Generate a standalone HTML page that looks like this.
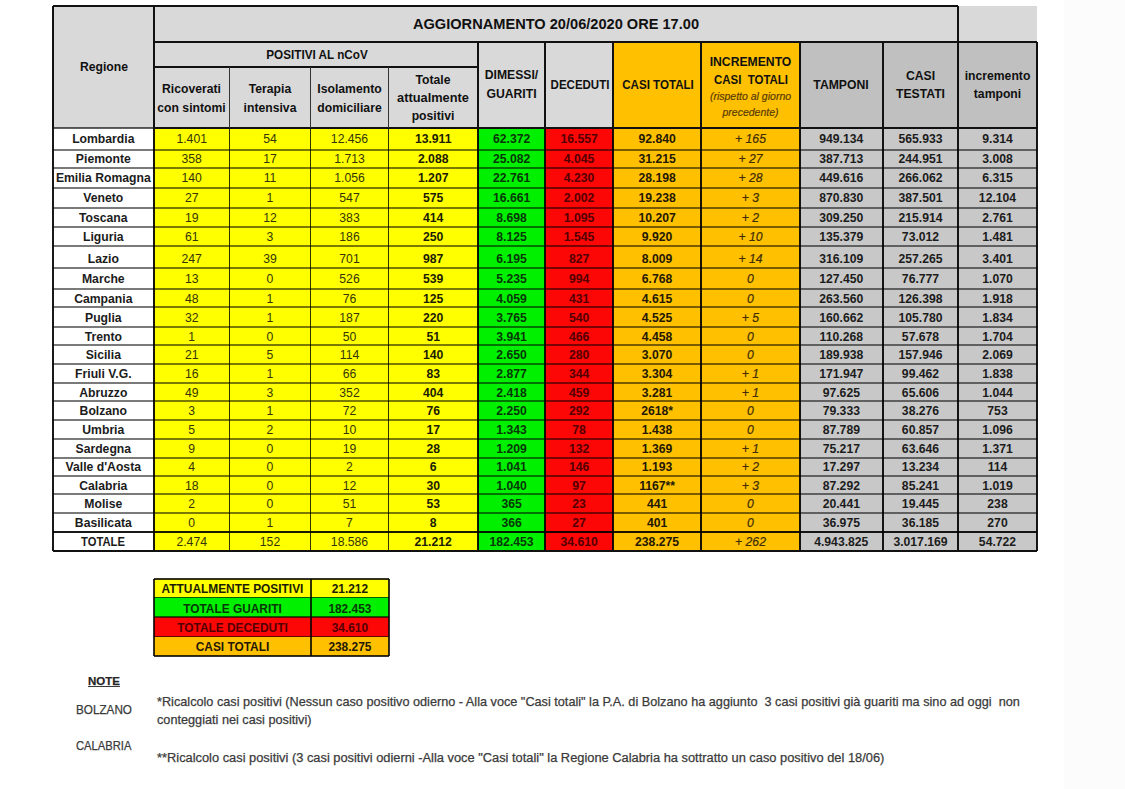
<!DOCTYPE html>
<html><head><meta charset="utf-8"><style>
html,body{margin:0;padding:0;background:#fff;}
body{width:1125px;height:789px;position:relative;overflow:hidden;font-family:"Liberation Sans",sans-serif;}
div{position:absolute;}
.t{position:absolute;white-space:nowrap;line-height:1;}
.n{position:absolute;white-space:nowrap;line-height:1;font-size:11.5px;-webkit-text-stroke:0.25px #3a3a3a;}
</style></head><body>
<div style="left:1064.0px;top:0.0px;width:61.0px;height:789.0px;background:#fcfcfc;"></div>
<div style="left:52.7px;top:6.0px;width:101.3px;height:122.3px;background:#d9d9d9;"></div>
<div style="left:154.0px;top:6.0px;width:804.0px;height:36.3px;background:#d9d9d9;"></div>
<div style="left:958.0px;top:6.0px;width:79.1px;height:36.3px;background:#d9d9d9;"></div>
<div style="left:154.0px;top:42.3px;width:324.0px;height:86.0px;background:#d9d9d9;"></div>
<div style="left:478.0px;top:42.3px;width:135.0px;height:86.0px;background:#d9d9d9;"></div>
<div style="left:613.0px;top:42.3px;width:186.6px;height:86.0px;background:#ffc000;"></div>
<div style="left:799.6px;top:42.3px;width:237.5px;height:86.0px;background:#c0c0c0;"></div>
<div style="left:52.7px;top:128.3px;width:101.3px;height:422.7px;background:#ffffff;"></div>
<div style="left:154.0px;top:128.3px;width:75.3px;height:422.7px;background:#ffff00;"></div>
<div style="left:229.3px;top:128.3px;width:81.4px;height:422.7px;background:#ffff00;"></div>
<div style="left:310.7px;top:128.3px;width:77.7px;height:422.7px;background:#ffff00;"></div>
<div style="left:388.4px;top:128.3px;width:89.6px;height:422.7px;background:#ffff00;"></div>
<div style="left:478.0px;top:128.3px;width:67.2px;height:422.7px;background:#00f000;"></div>
<div style="left:545.2px;top:128.3px;width:67.8px;height:422.7px;background:#fd0606;"></div>
<div style="left:613.0px;top:128.3px;width:88.3px;height:422.7px;background:#ffc000;"></div>
<div style="left:701.3px;top:128.3px;width:98.3px;height:422.7px;background:#ffc000;"></div>
<div style="left:799.6px;top:128.3px;width:83.4px;height:422.7px;background:#c8c8c8;"></div>
<div style="left:883.0px;top:128.3px;width:75.0px;height:422.7px;background:#c8c8c8;"></div>
<div style="left:958.0px;top:128.3px;width:79.1px;height:422.7px;background:#c8c8c8;"></div>
<div style="left:52.7px;top:148.5px;width:984.4px;height:2.0px;background:rgba(0,0,0,0.52);"></div>
<div style="left:52.7px;top:166.7px;width:984.4px;height:2.0px;background:rgba(0,0,0,0.52);"></div>
<div style="left:52.7px;top:186.8px;width:984.4px;height:2.0px;background:rgba(0,0,0,0.52);"></div>
<div style="left:52.7px;top:206.5px;width:984.4px;height:2.0px;background:rgba(0,0,0,0.52);"></div>
<div style="left:52.7px;top:226.0px;width:984.4px;height:2.0px;background:rgba(0,0,0,0.52);"></div>
<div style="left:52.7px;top:245.4px;width:984.4px;height:2.0px;background:rgba(0,0,0,0.52);"></div>
<div style="left:52.7px;top:266.5px;width:984.4px;height:2.0px;background:rgba(0,0,0,0.52);"></div>
<div style="left:52.7px;top:287.7px;width:984.4px;height:2.0px;background:rgba(0,0,0,0.52);"></div>
<div style="left:52.7px;top:306.3px;width:984.4px;height:2.0px;background:rgba(0,0,0,0.52);"></div>
<div style="left:52.7px;top:326.0px;width:984.4px;height:2.0px;background:rgba(0,0,0,0.52);"></div>
<div style="left:52.7px;top:344.3px;width:984.4px;height:2.0px;background:rgba(0,0,0,0.52);"></div>
<div style="left:52.7px;top:362.7px;width:984.4px;height:2.0px;background:rgba(0,0,0,0.52);"></div>
<div style="left:52.7px;top:382.1px;width:984.4px;height:2.0px;background:rgba(0,0,0,0.52);"></div>
<div style="left:52.7px;top:400.1px;width:984.4px;height:2.0px;background:rgba(0,0,0,0.52);"></div>
<div style="left:52.7px;top:419.0px;width:984.4px;height:2.0px;background:rgba(0,0,0,0.52);"></div>
<div style="left:52.7px;top:437.5px;width:984.4px;height:2.0px;background:rgba(0,0,0,0.52);"></div>
<div style="left:52.7px;top:456.6px;width:984.4px;height:2.0px;background:rgba(0,0,0,0.52);"></div>
<div style="left:52.7px;top:474.6px;width:984.4px;height:2.0px;background:rgba(0,0,0,0.52);"></div>
<div style="left:52.7px;top:493.4px;width:984.4px;height:2.0px;background:rgba(0,0,0,0.52);"></div>
<div style="left:52.7px;top:511.8px;width:984.4px;height:2.0px;background:rgba(0,0,0,0.52);"></div>
<div style="left:52.7px;top:530.7px;width:984.4px;height:2.0px;background:rgba(0,0,0,0.9);"></div>
<div style="left:51.7px;top:128.3px;width:2.0px;height:422.7px;background:rgba(0,0,0,0.9);"></div>
<div style="left:153.0px;top:128.3px;width:2.0px;height:422.7px;background:rgba(0,0,0,0.9);"></div>
<div style="left:228.5px;top:128.3px;width:1.6px;height:422.7px;background:rgba(0,0,0,0.8);"></div>
<div style="left:309.9px;top:128.3px;width:1.6px;height:422.7px;background:rgba(0,0,0,0.8);"></div>
<div style="left:387.6px;top:128.3px;width:1.6px;height:422.7px;background:rgba(0,0,0,0.8);"></div>
<div style="left:477.0px;top:128.3px;width:2.0px;height:422.7px;background:rgba(0,0,0,0.9);"></div>
<div style="left:544.2px;top:128.3px;width:2.0px;height:422.7px;background:rgba(0,0,0,0.9);"></div>
<div style="left:612.0px;top:128.3px;width:2.0px;height:422.7px;background:rgba(0,0,0,0.9);"></div>
<div style="left:700.3px;top:128.3px;width:2.0px;height:422.7px;background:rgba(0,0,0,0.9);"></div>
<div style="left:798.6px;top:128.3px;width:2.0px;height:422.7px;background:rgba(0,0,0,0.9);"></div>
<div style="left:882.0px;top:128.3px;width:2.0px;height:422.7px;background:rgba(0,0,0,0.9);"></div>
<div style="left:957.0px;top:128.3px;width:2.0px;height:422.7px;background:rgba(0,0,0,0.9);"></div>
<div style="left:1036.1px;top:128.3px;width:2.0px;height:422.7px;background:rgba(0,0,0,0.9);"></div>
<div style="left:52.7px;top:127.3px;width:101.3px;height:2.0px;background:rgba(0,0,0,0.62);"></div>
<div style="left:154.0px;top:127.3px;width:883.1px;height:2.0px;background:#111;"></div>
<div style="left:52.7px;top:550.0px;width:984.4px;height:2.0px;background:#111;"></div>
<div style="left:52.7px;top:5.0px;width:905.3px;height:2.0px;background:#111;"></div>
<div style="left:51.7px;top:6.0px;width:2.0px;height:122.3px;background:#111;"></div>
<div style="left:153.0px;top:6.0px;width:2.0px;height:122.3px;background:#111;"></div>
<div style="left:957.0px;top:6.0px;width:2.0px;height:122.3px;background:#111;"></div>
<div style="left:154.0px;top:41.3px;width:883.1px;height:2.0px;background:#111;"></div>
<div style="left:154.0px;top:66.3px;width:324.0px;height:2.0px;background:#111;"></div>
<div style="left:228.7px;top:67.3px;width:1.2px;height:61.0px;background:#333;"></div>
<div style="left:310.1px;top:67.3px;width:1.2px;height:61.0px;background:#333;"></div>
<div style="left:387.8px;top:67.3px;width:1.2px;height:61.0px;background:#333;"></div>
<div style="left:477.0px;top:42.3px;width:2.0px;height:86.0px;background:#111;"></div>
<div style="left:544.2px;top:42.3px;width:2.0px;height:86.0px;background:#111;"></div>
<div style="left:612.0px;top:42.3px;width:2.0px;height:86.0px;background:#111;"></div>
<div style="left:700.3px;top:42.3px;width:2.0px;height:86.0px;background:#111;"></div>
<div style="left:798.6px;top:42.3px;width:2.0px;height:86.0px;background:#111;"></div>
<div style="left:882.0px;top:42.3px;width:2.0px;height:86.0px;background:#111;"></div>
<div style="left:1036.1px;top:42.3px;width:2.0px;height:86.0px;background:#111;"></div>
<span class="t" style="left:104.0px;top:67.0px;font-size:12.2px;font-weight:bold;color:#111;transform:translate(-50%,-50%) scaleX(1.0)">Regione</span>
<span class="t" style="left:556.0px;top:24.0px;font-size:14.6px;font-weight:bold;color:#111;transform:translate(-50%,-50%) scaleX(1.0)">AGGIORNAMENTO 20/06/2020 ORE 17.00</span>
<span class="t" style="left:316.8px;top:54.5px;font-size:12.2px;font-weight:bold;color:#111;transform:translate(-50%,-50%) scaleX(0.96)">POSITIVI AL nCoV</span>
<span class="t" style="left:191.5px;top:89.0px;font-size:12.2px;font-weight:bold;color:#111;transform:translate(-50%,-50%) scaleX(1.0)">Ricoverati</span>
<span class="t" style="left:191.5px;top:108.0px;font-size:12.2px;font-weight:bold;color:#111;transform:translate(-50%,-50%) scaleX(1.0)">con sintomi</span>
<span class="t" style="left:270.0px;top:89.0px;font-size:12.2px;font-weight:bold;color:#111;transform:translate(-50%,-50%) scaleX(1.0)">Terapia</span>
<span class="t" style="left:270.0px;top:108.0px;font-size:12.2px;font-weight:bold;color:#111;transform:translate(-50%,-50%) scaleX(1.0)">intensiva</span>
<span class="t" style="left:349.5px;top:89.0px;font-size:12.2px;font-weight:bold;color:#111;transform:translate(-50%,-50%) scaleX(1.0)">Isolamento</span>
<span class="t" style="left:349.5px;top:108.0px;font-size:12.2px;font-weight:bold;color:#111;transform:translate(-50%,-50%) scaleX(1.0)">domiciliare</span>
<span class="t" style="left:433.0px;top:80.0px;font-size:12.2px;font-weight:bold;color:#111;transform:translate(-50%,-50%) scaleX(1.0)">Totale</span>
<span class="t" style="left:433.2px;top:98.0px;font-size:12.2px;font-weight:bold;color:#111;transform:translate(-50%,-50%) scaleX(1.05)">attualmente</span>
<span class="t" style="left:433.0px;top:116.0px;font-size:12.2px;font-weight:bold;color:#111;transform:translate(-50%,-50%) scaleX(1.0)">positivi</span>
<span class="t" style="left:511.5px;top:75.0px;font-size:12.2px;font-weight:bold;color:#111;transform:translate(-50%,-50%) scaleX(1.0)">DIMESSI/</span>
<span class="t" style="left:511.5px;top:94.0px;font-size:12.2px;font-weight:bold;color:#111;transform:translate(-50%,-50%) scaleX(1.0)">GUARITI</span>
<span class="t" style="left:579.5px;top:85.0px;font-size:12.2px;font-weight:bold;color:#111;transform:translate(-50%,-50%) scaleX(0.944)">DECEDUTI</span>
<span class="t" style="left:657.7px;top:85.0px;font-size:12.2px;font-weight:bold;color:#111;transform:translate(-50%,-50%) scaleX(0.95)">CASI TOTALI</span>
<span class="t" style="left:750.5px;top:62.0px;font-size:12.2px;font-weight:bold;color:#111;transform:translate(-50%,-50%) scaleX(1.0)">INCREMENTO</span>
<span class="t" style="left:750.9px;top:79.5px;font-size:12.2px;font-weight:bold;color:#111;transform:translate(-50%,-50%) scaleX(0.94)">CASI&nbsp; TOTALI</span>
<span class="t" style="left:750.5px;top:96.0px;font-size:10.5px;font-weight:normal;color:#5a3c08;font-style:italic;-webkit-text-stroke:0.2px #5a3c08;transform:translate(-50%,-50%) scaleX(1.0)">(rispetto al giorno</span>
<span class="t" style="left:750.5px;top:112.0px;font-size:10.5px;font-weight:normal;color:#5a3c08;font-style:italic;-webkit-text-stroke:0.2px #5a3c08;transform:translate(-50%,-50%) scaleX(1.0)">precedente)</span>
<span class="t" style="left:841.0px;top:85.0px;font-size:12.2px;font-weight:bold;color:#111;transform:translate(-50%,-50%) scaleX(1.0)">TAMPONI</span>
<span class="t" style="left:920.5px;top:76.0px;font-size:12.2px;font-weight:bold;color:#111;transform:translate(-50%,-50%) scaleX(1.0)">CASI</span>
<span class="t" style="left:920.5px;top:94.0px;font-size:12.2px;font-weight:bold;color:#111;transform:translate(-50%,-50%) scaleX(1.0)">TESTATI</span>
<span class="t" style="left:997.5px;top:75.5px;font-size:12.2px;font-weight:bold;color:#111;transform:translate(-50%,-50%) scaleX(1.0)">incremento</span>
<span class="t" style="left:997.5px;top:93.5px;font-size:12.2px;font-weight:bold;color:#111;transform:translate(-50%,-50%) scaleX(1.0)">tamponi</span>
<span class="t" style="left:103.3px;top:139.4px;font-size:12.2px;font-weight:bold;color:#1c1c1c;transform:translate(-50%,-50%) scaleX(1.0)">Lombardia</span>
<span class="t" style="left:191.7px;top:139.4px;font-size:12.2px;font-weight:normal;color:#34340a;transform:translate(-50%,-50%) scaleX(1.0)">1.401</span>
<span class="t" style="left:270.0px;top:139.4px;font-size:12.2px;font-weight:normal;color:#34340a;transform:translate(-50%,-50%) scaleX(1.0)">54</span>
<span class="t" style="left:349.5px;top:139.4px;font-size:12.2px;font-weight:normal;color:#34340a;transform:translate(-50%,-50%) scaleX(1.0)">12.456</span>
<span class="t" style="left:433.2px;top:139.4px;font-size:12.2px;font-weight:bold;color:#1c1c04;transform:translate(-50%,-50%) scaleX(1.0)">13.911</span>
<span class="t" style="left:511.6px;top:139.4px;font-size:12.2px;font-weight:bold;color:#063806;transform:translate(-50%,-50%) scaleX(1.0)">62.372</span>
<span class="t" style="left:579.1px;top:139.4px;font-size:12.2px;font-weight:bold;color:#520000;transform:translate(-50%,-50%) scaleX(1.0)">16.557</span>
<span class="t" style="left:657.1px;top:139.4px;font-size:12.2px;font-weight:bold;color:#241804;transform:translate(-50%,-50%) scaleX(1.0)">92.840</span>
<span class="t" style="left:750.5px;top:139.4px;font-size:12.2px;font-weight:normal;color:#402c06;font-style:italic;-webkit-text-stroke:0.2px #402c06;transform:translate(-50%,-50%) scaleX(1.0)">+ 165</span>
<span class="t" style="left:841.3px;top:139.4px;font-size:12.2px;font-weight:bold;color:#1c1c1c;transform:translate(-50%,-50%) scaleX(1.0)">949.134</span>
<span class="t" style="left:920.5px;top:139.4px;font-size:12.2px;font-weight:bold;color:#1c1c1c;transform:translate(-50%,-50%) scaleX(1.0)">565.933</span>
<span class="t" style="left:997.5px;top:139.4px;font-size:12.2px;font-weight:bold;color:#1c1c1c;transform:translate(-50%,-50%) scaleX(1.0)">9.314</span>
<span class="t" style="left:103.3px;top:159.1px;font-size:12.2px;font-weight:bold;color:#1c1c1c;transform:translate(-50%,-50%) scaleX(1.0)">Piemonte</span>
<span class="t" style="left:191.7px;top:159.1px;font-size:12.2px;font-weight:normal;color:#34340a;transform:translate(-50%,-50%) scaleX(1.0)">358</span>
<span class="t" style="left:270.0px;top:159.1px;font-size:12.2px;font-weight:normal;color:#34340a;transform:translate(-50%,-50%) scaleX(1.0)">17</span>
<span class="t" style="left:349.5px;top:159.1px;font-size:12.2px;font-weight:normal;color:#34340a;transform:translate(-50%,-50%) scaleX(1.0)">1.713</span>
<span class="t" style="left:433.2px;top:159.1px;font-size:12.2px;font-weight:bold;color:#1c1c04;transform:translate(-50%,-50%) scaleX(1.0)">2.088</span>
<span class="t" style="left:511.6px;top:159.1px;font-size:12.2px;font-weight:bold;color:#063806;transform:translate(-50%,-50%) scaleX(1.0)">25.082</span>
<span class="t" style="left:579.1px;top:159.1px;font-size:12.2px;font-weight:bold;color:#520000;transform:translate(-50%,-50%) scaleX(1.0)">4.045</span>
<span class="t" style="left:657.1px;top:159.1px;font-size:12.2px;font-weight:bold;color:#241804;transform:translate(-50%,-50%) scaleX(1.0)">31.215</span>
<span class="t" style="left:750.5px;top:159.1px;font-size:12.2px;font-weight:normal;color:#402c06;font-style:italic;-webkit-text-stroke:0.2px #402c06;transform:translate(-50%,-50%) scaleX(1.0)">+ 27</span>
<span class="t" style="left:841.3px;top:159.1px;font-size:12.2px;font-weight:bold;color:#1c1c1c;transform:translate(-50%,-50%) scaleX(1.0)">387.713</span>
<span class="t" style="left:920.5px;top:159.1px;font-size:12.2px;font-weight:bold;color:#1c1c1c;transform:translate(-50%,-50%) scaleX(1.0)">244.951</span>
<span class="t" style="left:997.5px;top:159.1px;font-size:12.2px;font-weight:bold;color:#1c1c1c;transform:translate(-50%,-50%) scaleX(1.0)">3.008</span>
<span class="t" style="left:103.3px;top:178.2px;font-size:12.2px;font-weight:bold;color:#1c1c1c;transform:translate(-50%,-50%) scaleX(1.0)">Emilia Romagna</span>
<span class="t" style="left:191.7px;top:178.2px;font-size:12.2px;font-weight:normal;color:#34340a;transform:translate(-50%,-50%) scaleX(1.0)">140</span>
<span class="t" style="left:270.0px;top:178.2px;font-size:12.2px;font-weight:normal;color:#34340a;transform:translate(-50%,-50%) scaleX(1.0)">11</span>
<span class="t" style="left:349.5px;top:178.2px;font-size:12.2px;font-weight:normal;color:#34340a;transform:translate(-50%,-50%) scaleX(1.0)">1.056</span>
<span class="t" style="left:433.2px;top:178.2px;font-size:12.2px;font-weight:bold;color:#1c1c04;transform:translate(-50%,-50%) scaleX(1.0)">1.207</span>
<span class="t" style="left:511.6px;top:178.2px;font-size:12.2px;font-weight:bold;color:#063806;transform:translate(-50%,-50%) scaleX(1.0)">22.761</span>
<span class="t" style="left:579.1px;top:178.2px;font-size:12.2px;font-weight:bold;color:#520000;transform:translate(-50%,-50%) scaleX(1.0)">4.230</span>
<span class="t" style="left:657.1px;top:178.2px;font-size:12.2px;font-weight:bold;color:#241804;transform:translate(-50%,-50%) scaleX(1.0)">28.198</span>
<span class="t" style="left:750.5px;top:178.2px;font-size:12.2px;font-weight:normal;color:#402c06;font-style:italic;-webkit-text-stroke:0.2px #402c06;transform:translate(-50%,-50%) scaleX(1.0)">+ 28</span>
<span class="t" style="left:841.3px;top:178.2px;font-size:12.2px;font-weight:bold;color:#1c1c1c;transform:translate(-50%,-50%) scaleX(1.0)">449.616</span>
<span class="t" style="left:920.5px;top:178.2px;font-size:12.2px;font-weight:bold;color:#1c1c1c;transform:translate(-50%,-50%) scaleX(1.0)">266.062</span>
<span class="t" style="left:997.5px;top:178.2px;font-size:12.2px;font-weight:bold;color:#1c1c1c;transform:translate(-50%,-50%) scaleX(1.0)">6.315</span>
<span class="t" style="left:103.3px;top:198.2px;font-size:12.2px;font-weight:bold;color:#1c1c1c;transform:translate(-50%,-50%) scaleX(1.0)">Veneto</span>
<span class="t" style="left:191.7px;top:198.2px;font-size:12.2px;font-weight:normal;color:#34340a;transform:translate(-50%,-50%) scaleX(1.0)">27</span>
<span class="t" style="left:270.0px;top:198.2px;font-size:12.2px;font-weight:normal;color:#34340a;transform:translate(-50%,-50%) scaleX(1.0)">1</span>
<span class="t" style="left:349.5px;top:198.2px;font-size:12.2px;font-weight:normal;color:#34340a;transform:translate(-50%,-50%) scaleX(1.0)">547</span>
<span class="t" style="left:433.2px;top:198.2px;font-size:12.2px;font-weight:bold;color:#1c1c04;transform:translate(-50%,-50%) scaleX(1.0)">575</span>
<span class="t" style="left:511.6px;top:198.2px;font-size:12.2px;font-weight:bold;color:#063806;transform:translate(-50%,-50%) scaleX(1.0)">16.661</span>
<span class="t" style="left:579.1px;top:198.2px;font-size:12.2px;font-weight:bold;color:#520000;transform:translate(-50%,-50%) scaleX(1.0)">2.002</span>
<span class="t" style="left:657.1px;top:198.2px;font-size:12.2px;font-weight:bold;color:#241804;transform:translate(-50%,-50%) scaleX(1.0)">19.238</span>
<span class="t" style="left:750.5px;top:198.2px;font-size:12.2px;font-weight:normal;color:#402c06;font-style:italic;-webkit-text-stroke:0.2px #402c06;transform:translate(-50%,-50%) scaleX(1.0)">+ 3</span>
<span class="t" style="left:841.3px;top:198.2px;font-size:12.2px;font-weight:bold;color:#1c1c1c;transform:translate(-50%,-50%) scaleX(1.0)">870.830</span>
<span class="t" style="left:920.5px;top:198.2px;font-size:12.2px;font-weight:bold;color:#1c1c1c;transform:translate(-50%,-50%) scaleX(1.0)">387.501</span>
<span class="t" style="left:997.5px;top:198.2px;font-size:12.2px;font-weight:bold;color:#1c1c1c;transform:translate(-50%,-50%) scaleX(1.0)">12.104</span>
<span class="t" style="left:103.3px;top:217.8px;font-size:12.2px;font-weight:bold;color:#1c1c1c;transform:translate(-50%,-50%) scaleX(1.0)">Toscana</span>
<span class="t" style="left:191.7px;top:217.8px;font-size:12.2px;font-weight:normal;color:#34340a;transform:translate(-50%,-50%) scaleX(1.0)">19</span>
<span class="t" style="left:270.0px;top:217.8px;font-size:12.2px;font-weight:normal;color:#34340a;transform:translate(-50%,-50%) scaleX(1.0)">12</span>
<span class="t" style="left:349.5px;top:217.8px;font-size:12.2px;font-weight:normal;color:#34340a;transform:translate(-50%,-50%) scaleX(1.0)">383</span>
<span class="t" style="left:433.2px;top:217.8px;font-size:12.2px;font-weight:bold;color:#1c1c04;transform:translate(-50%,-50%) scaleX(1.0)">414</span>
<span class="t" style="left:511.6px;top:217.8px;font-size:12.2px;font-weight:bold;color:#063806;transform:translate(-50%,-50%) scaleX(1.0)">8.698</span>
<span class="t" style="left:579.1px;top:217.8px;font-size:12.2px;font-weight:bold;color:#520000;transform:translate(-50%,-50%) scaleX(1.0)">1.095</span>
<span class="t" style="left:657.1px;top:217.8px;font-size:12.2px;font-weight:bold;color:#241804;transform:translate(-50%,-50%) scaleX(1.0)">10.207</span>
<span class="t" style="left:750.5px;top:217.8px;font-size:12.2px;font-weight:normal;color:#402c06;font-style:italic;-webkit-text-stroke:0.2px #402c06;transform:translate(-50%,-50%) scaleX(1.0)">+ 2</span>
<span class="t" style="left:841.3px;top:217.8px;font-size:12.2px;font-weight:bold;color:#1c1c1c;transform:translate(-50%,-50%) scaleX(1.0)">309.250</span>
<span class="t" style="left:920.5px;top:217.8px;font-size:12.2px;font-weight:bold;color:#1c1c1c;transform:translate(-50%,-50%) scaleX(1.0)">215.914</span>
<span class="t" style="left:997.5px;top:217.8px;font-size:12.2px;font-weight:bold;color:#1c1c1c;transform:translate(-50%,-50%) scaleX(1.0)">2.761</span>
<span class="t" style="left:103.3px;top:237.2px;font-size:12.2px;font-weight:bold;color:#1c1c1c;transform:translate(-50%,-50%) scaleX(1.0)">Liguria</span>
<span class="t" style="left:191.7px;top:237.2px;font-size:12.2px;font-weight:normal;color:#34340a;transform:translate(-50%,-50%) scaleX(1.0)">61</span>
<span class="t" style="left:270.0px;top:237.2px;font-size:12.2px;font-weight:normal;color:#34340a;transform:translate(-50%,-50%) scaleX(1.0)">3</span>
<span class="t" style="left:349.5px;top:237.2px;font-size:12.2px;font-weight:normal;color:#34340a;transform:translate(-50%,-50%) scaleX(1.0)">186</span>
<span class="t" style="left:433.2px;top:237.2px;font-size:12.2px;font-weight:bold;color:#1c1c04;transform:translate(-50%,-50%) scaleX(1.0)">250</span>
<span class="t" style="left:511.6px;top:237.2px;font-size:12.2px;font-weight:bold;color:#063806;transform:translate(-50%,-50%) scaleX(1.0)">8.125</span>
<span class="t" style="left:579.1px;top:237.2px;font-size:12.2px;font-weight:bold;color:#520000;transform:translate(-50%,-50%) scaleX(1.0)">1.545</span>
<span class="t" style="left:657.1px;top:237.2px;font-size:12.2px;font-weight:bold;color:#241804;transform:translate(-50%,-50%) scaleX(1.0)">9.920</span>
<span class="t" style="left:750.5px;top:237.2px;font-size:12.2px;font-weight:normal;color:#402c06;font-style:italic;-webkit-text-stroke:0.2px #402c06;transform:translate(-50%,-50%) scaleX(1.0)">+ 10</span>
<span class="t" style="left:841.3px;top:237.2px;font-size:12.2px;font-weight:bold;color:#1c1c1c;transform:translate(-50%,-50%) scaleX(1.0)">135.379</span>
<span class="t" style="left:920.5px;top:237.2px;font-size:12.2px;font-weight:bold;color:#1c1c1c;transform:translate(-50%,-50%) scaleX(1.0)">73.012</span>
<span class="t" style="left:997.5px;top:237.2px;font-size:12.2px;font-weight:bold;color:#1c1c1c;transform:translate(-50%,-50%) scaleX(1.0)">1.481</span>
<span class="t" style="left:103.3px;top:258.6px;font-size:12.2px;font-weight:bold;color:#1c1c1c;transform:translate(-50%,-50%) scaleX(1.0)">Lazio</span>
<span class="t" style="left:191.7px;top:258.6px;font-size:12.2px;font-weight:normal;color:#34340a;transform:translate(-50%,-50%) scaleX(1.0)">247</span>
<span class="t" style="left:270.0px;top:258.6px;font-size:12.2px;font-weight:normal;color:#34340a;transform:translate(-50%,-50%) scaleX(1.0)">39</span>
<span class="t" style="left:349.5px;top:258.6px;font-size:12.2px;font-weight:normal;color:#34340a;transform:translate(-50%,-50%) scaleX(1.0)">701</span>
<span class="t" style="left:433.2px;top:258.6px;font-size:12.2px;font-weight:bold;color:#1c1c04;transform:translate(-50%,-50%) scaleX(1.0)">987</span>
<span class="t" style="left:511.6px;top:258.6px;font-size:12.2px;font-weight:bold;color:#063806;transform:translate(-50%,-50%) scaleX(1.0)">6.195</span>
<span class="t" style="left:579.1px;top:258.6px;font-size:12.2px;font-weight:bold;color:#520000;transform:translate(-50%,-50%) scaleX(1.0)">827</span>
<span class="t" style="left:657.1px;top:258.6px;font-size:12.2px;font-weight:bold;color:#241804;transform:translate(-50%,-50%) scaleX(1.0)">8.009</span>
<span class="t" style="left:750.5px;top:258.6px;font-size:12.2px;font-weight:normal;color:#402c06;font-style:italic;-webkit-text-stroke:0.2px #402c06;transform:translate(-50%,-50%) scaleX(1.0)">+ 14</span>
<span class="t" style="left:841.3px;top:258.6px;font-size:12.2px;font-weight:bold;color:#1c1c1c;transform:translate(-50%,-50%) scaleX(1.0)">316.109</span>
<span class="t" style="left:920.5px;top:258.6px;font-size:12.2px;font-weight:bold;color:#1c1c1c;transform:translate(-50%,-50%) scaleX(1.0)">257.265</span>
<span class="t" style="left:997.5px;top:258.6px;font-size:12.2px;font-weight:bold;color:#1c1c1c;transform:translate(-50%,-50%) scaleX(1.0)">3.401</span>
<span class="t" style="left:103.3px;top:278.6px;font-size:12.2px;font-weight:bold;color:#1c1c1c;transform:translate(-50%,-50%) scaleX(1.0)">Marche</span>
<span class="t" style="left:191.7px;top:278.6px;font-size:12.2px;font-weight:normal;color:#34340a;transform:translate(-50%,-50%) scaleX(1.0)">13</span>
<span class="t" style="left:270.0px;top:278.6px;font-size:12.2px;font-weight:normal;color:#34340a;transform:translate(-50%,-50%) scaleX(1.0)">0</span>
<span class="t" style="left:349.5px;top:278.6px;font-size:12.2px;font-weight:normal;color:#34340a;transform:translate(-50%,-50%) scaleX(1.0)">526</span>
<span class="t" style="left:433.2px;top:278.6px;font-size:12.2px;font-weight:bold;color:#1c1c04;transform:translate(-50%,-50%) scaleX(1.0)">539</span>
<span class="t" style="left:511.6px;top:278.6px;font-size:12.2px;font-weight:bold;color:#063806;transform:translate(-50%,-50%) scaleX(1.0)">5.235</span>
<span class="t" style="left:579.1px;top:278.6px;font-size:12.2px;font-weight:bold;color:#520000;transform:translate(-50%,-50%) scaleX(1.0)">994</span>
<span class="t" style="left:657.1px;top:278.6px;font-size:12.2px;font-weight:bold;color:#241804;transform:translate(-50%,-50%) scaleX(1.0)">6.768</span>
<span class="t" style="left:750.5px;top:278.6px;font-size:12.2px;font-weight:normal;color:#402c06;font-style:italic;-webkit-text-stroke:0.2px #402c06;transform:translate(-50%,-50%) scaleX(1.0)">0</span>
<span class="t" style="left:841.3px;top:278.6px;font-size:12.2px;font-weight:bold;color:#1c1c1c;transform:translate(-50%,-50%) scaleX(1.0)">127.450</span>
<span class="t" style="left:920.5px;top:278.6px;font-size:12.2px;font-weight:bold;color:#1c1c1c;transform:translate(-50%,-50%) scaleX(1.0)">76.777</span>
<span class="t" style="left:997.5px;top:278.6px;font-size:12.2px;font-weight:bold;color:#1c1c1c;transform:translate(-50%,-50%) scaleX(1.0)">1.070</span>
<span class="t" style="left:103.3px;top:298.5px;font-size:12.2px;font-weight:bold;color:#1c1c1c;transform:translate(-50%,-50%) scaleX(1.0)">Campania</span>
<span class="t" style="left:191.7px;top:298.5px;font-size:12.2px;font-weight:normal;color:#34340a;transform:translate(-50%,-50%) scaleX(1.0)">48</span>
<span class="t" style="left:270.0px;top:298.5px;font-size:12.2px;font-weight:normal;color:#34340a;transform:translate(-50%,-50%) scaleX(1.0)">1</span>
<span class="t" style="left:349.5px;top:298.5px;font-size:12.2px;font-weight:normal;color:#34340a;transform:translate(-50%,-50%) scaleX(1.0)">76</span>
<span class="t" style="left:433.2px;top:298.5px;font-size:12.2px;font-weight:bold;color:#1c1c04;transform:translate(-50%,-50%) scaleX(1.0)">125</span>
<span class="t" style="left:511.6px;top:298.5px;font-size:12.2px;font-weight:bold;color:#063806;transform:translate(-50%,-50%) scaleX(1.0)">4.059</span>
<span class="t" style="left:579.1px;top:298.5px;font-size:12.2px;font-weight:bold;color:#520000;transform:translate(-50%,-50%) scaleX(1.0)">431</span>
<span class="t" style="left:657.1px;top:298.5px;font-size:12.2px;font-weight:bold;color:#241804;transform:translate(-50%,-50%) scaleX(1.0)">4.615</span>
<span class="t" style="left:750.5px;top:298.5px;font-size:12.2px;font-weight:normal;color:#402c06;font-style:italic;-webkit-text-stroke:0.2px #402c06;transform:translate(-50%,-50%) scaleX(1.0)">0</span>
<span class="t" style="left:841.3px;top:298.5px;font-size:12.2px;font-weight:bold;color:#1c1c1c;transform:translate(-50%,-50%) scaleX(1.0)">263.560</span>
<span class="t" style="left:920.5px;top:298.5px;font-size:12.2px;font-weight:bold;color:#1c1c1c;transform:translate(-50%,-50%) scaleX(1.0)">126.398</span>
<span class="t" style="left:997.5px;top:298.5px;font-size:12.2px;font-weight:bold;color:#1c1c1c;transform:translate(-50%,-50%) scaleX(1.0)">1.918</span>
<span class="t" style="left:103.3px;top:317.6px;font-size:12.2px;font-weight:bold;color:#1c1c1c;transform:translate(-50%,-50%) scaleX(1.0)">Puglia</span>
<span class="t" style="left:191.7px;top:317.6px;font-size:12.2px;font-weight:normal;color:#34340a;transform:translate(-50%,-50%) scaleX(1.0)">32</span>
<span class="t" style="left:270.0px;top:317.6px;font-size:12.2px;font-weight:normal;color:#34340a;transform:translate(-50%,-50%) scaleX(1.0)">1</span>
<span class="t" style="left:349.5px;top:317.6px;font-size:12.2px;font-weight:normal;color:#34340a;transform:translate(-50%,-50%) scaleX(1.0)">187</span>
<span class="t" style="left:433.2px;top:317.6px;font-size:12.2px;font-weight:bold;color:#1c1c04;transform:translate(-50%,-50%) scaleX(1.0)">220</span>
<span class="t" style="left:511.6px;top:317.6px;font-size:12.2px;font-weight:bold;color:#063806;transform:translate(-50%,-50%) scaleX(1.0)">3.765</span>
<span class="t" style="left:579.1px;top:317.6px;font-size:12.2px;font-weight:bold;color:#520000;transform:translate(-50%,-50%) scaleX(1.0)">540</span>
<span class="t" style="left:657.1px;top:317.6px;font-size:12.2px;font-weight:bold;color:#241804;transform:translate(-50%,-50%) scaleX(1.0)">4.525</span>
<span class="t" style="left:750.5px;top:317.6px;font-size:12.2px;font-weight:normal;color:#402c06;font-style:italic;-webkit-text-stroke:0.2px #402c06;transform:translate(-50%,-50%) scaleX(1.0)">+ 5</span>
<span class="t" style="left:841.3px;top:317.6px;font-size:12.2px;font-weight:bold;color:#1c1c1c;transform:translate(-50%,-50%) scaleX(1.0)">160.662</span>
<span class="t" style="left:920.5px;top:317.6px;font-size:12.2px;font-weight:bold;color:#1c1c1c;transform:translate(-50%,-50%) scaleX(1.0)">105.780</span>
<span class="t" style="left:997.5px;top:317.6px;font-size:12.2px;font-weight:bold;color:#1c1c1c;transform:translate(-50%,-50%) scaleX(1.0)">1.834</span>
<span class="t" style="left:103.3px;top:336.6px;font-size:12.2px;font-weight:bold;color:#1c1c1c;transform:translate(-50%,-50%) scaleX(1.0)">Trento</span>
<span class="t" style="left:191.7px;top:336.6px;font-size:12.2px;font-weight:normal;color:#34340a;transform:translate(-50%,-50%) scaleX(1.0)">1</span>
<span class="t" style="left:270.0px;top:336.6px;font-size:12.2px;font-weight:normal;color:#34340a;transform:translate(-50%,-50%) scaleX(1.0)">0</span>
<span class="t" style="left:349.5px;top:336.6px;font-size:12.2px;font-weight:normal;color:#34340a;transform:translate(-50%,-50%) scaleX(1.0)">50</span>
<span class="t" style="left:433.2px;top:336.6px;font-size:12.2px;font-weight:bold;color:#1c1c04;transform:translate(-50%,-50%) scaleX(1.0)">51</span>
<span class="t" style="left:511.6px;top:336.6px;font-size:12.2px;font-weight:bold;color:#063806;transform:translate(-50%,-50%) scaleX(1.0)">3.941</span>
<span class="t" style="left:579.1px;top:336.6px;font-size:12.2px;font-weight:bold;color:#520000;transform:translate(-50%,-50%) scaleX(1.0)">466</span>
<span class="t" style="left:657.1px;top:336.6px;font-size:12.2px;font-weight:bold;color:#241804;transform:translate(-50%,-50%) scaleX(1.0)">4.458</span>
<span class="t" style="left:750.5px;top:336.6px;font-size:12.2px;font-weight:normal;color:#402c06;font-style:italic;-webkit-text-stroke:0.2px #402c06;transform:translate(-50%,-50%) scaleX(1.0)">0</span>
<span class="t" style="left:841.3px;top:336.6px;font-size:12.2px;font-weight:bold;color:#1c1c1c;transform:translate(-50%,-50%) scaleX(1.0)">110.268</span>
<span class="t" style="left:920.5px;top:336.6px;font-size:12.2px;font-weight:bold;color:#1c1c1c;transform:translate(-50%,-50%) scaleX(1.0)">57.678</span>
<span class="t" style="left:997.5px;top:336.6px;font-size:12.2px;font-weight:bold;color:#1c1c1c;transform:translate(-50%,-50%) scaleX(1.0)">1.704</span>
<span class="t" style="left:103.3px;top:355.0px;font-size:12.2px;font-weight:bold;color:#1c1c1c;transform:translate(-50%,-50%) scaleX(1.0)">Sicilia</span>
<span class="t" style="left:191.7px;top:355.0px;font-size:12.2px;font-weight:normal;color:#34340a;transform:translate(-50%,-50%) scaleX(1.0)">21</span>
<span class="t" style="left:270.0px;top:355.0px;font-size:12.2px;font-weight:normal;color:#34340a;transform:translate(-50%,-50%) scaleX(1.0)">5</span>
<span class="t" style="left:349.5px;top:355.0px;font-size:12.2px;font-weight:normal;color:#34340a;transform:translate(-50%,-50%) scaleX(1.0)">114</span>
<span class="t" style="left:433.2px;top:355.0px;font-size:12.2px;font-weight:bold;color:#1c1c04;transform:translate(-50%,-50%) scaleX(1.0)">140</span>
<span class="t" style="left:511.6px;top:355.0px;font-size:12.2px;font-weight:bold;color:#063806;transform:translate(-50%,-50%) scaleX(1.0)">2.650</span>
<span class="t" style="left:579.1px;top:355.0px;font-size:12.2px;font-weight:bold;color:#520000;transform:translate(-50%,-50%) scaleX(1.0)">280</span>
<span class="t" style="left:657.1px;top:355.0px;font-size:12.2px;font-weight:bold;color:#241804;transform:translate(-50%,-50%) scaleX(1.0)">3.070</span>
<span class="t" style="left:750.5px;top:355.0px;font-size:12.2px;font-weight:normal;color:#402c06;font-style:italic;-webkit-text-stroke:0.2px #402c06;transform:translate(-50%,-50%) scaleX(1.0)">0</span>
<span class="t" style="left:841.3px;top:355.0px;font-size:12.2px;font-weight:bold;color:#1c1c1c;transform:translate(-50%,-50%) scaleX(1.0)">189.938</span>
<span class="t" style="left:920.5px;top:355.0px;font-size:12.2px;font-weight:bold;color:#1c1c1c;transform:translate(-50%,-50%) scaleX(1.0)">157.946</span>
<span class="t" style="left:997.5px;top:355.0px;font-size:12.2px;font-weight:bold;color:#1c1c1c;transform:translate(-50%,-50%) scaleX(1.0)">2.069</span>
<span class="t" style="left:103.3px;top:373.9px;font-size:12.2px;font-weight:bold;color:#1c1c1c;transform:translate(-50%,-50%) scaleX(1.0)">Friuli V.G.</span>
<span class="t" style="left:191.7px;top:373.9px;font-size:12.2px;font-weight:normal;color:#34340a;transform:translate(-50%,-50%) scaleX(1.0)">16</span>
<span class="t" style="left:270.0px;top:373.9px;font-size:12.2px;font-weight:normal;color:#34340a;transform:translate(-50%,-50%) scaleX(1.0)">1</span>
<span class="t" style="left:349.5px;top:373.9px;font-size:12.2px;font-weight:normal;color:#34340a;transform:translate(-50%,-50%) scaleX(1.0)">66</span>
<span class="t" style="left:433.2px;top:373.9px;font-size:12.2px;font-weight:bold;color:#1c1c04;transform:translate(-50%,-50%) scaleX(1.0)">83</span>
<span class="t" style="left:511.6px;top:373.9px;font-size:12.2px;font-weight:bold;color:#063806;transform:translate(-50%,-50%) scaleX(1.0)">2.877</span>
<span class="t" style="left:579.1px;top:373.9px;font-size:12.2px;font-weight:bold;color:#520000;transform:translate(-50%,-50%) scaleX(1.0)">344</span>
<span class="t" style="left:657.1px;top:373.9px;font-size:12.2px;font-weight:bold;color:#241804;transform:translate(-50%,-50%) scaleX(1.0)">3.304</span>
<span class="t" style="left:750.5px;top:373.9px;font-size:12.2px;font-weight:normal;color:#402c06;font-style:italic;-webkit-text-stroke:0.2px #402c06;transform:translate(-50%,-50%) scaleX(1.0)">+ 1</span>
<span class="t" style="left:841.3px;top:373.9px;font-size:12.2px;font-weight:bold;color:#1c1c1c;transform:translate(-50%,-50%) scaleX(1.0)">171.947</span>
<span class="t" style="left:920.5px;top:373.9px;font-size:12.2px;font-weight:bold;color:#1c1c1c;transform:translate(-50%,-50%) scaleX(1.0)">99.462</span>
<span class="t" style="left:997.5px;top:373.9px;font-size:12.2px;font-weight:bold;color:#1c1c1c;transform:translate(-50%,-50%) scaleX(1.0)">1.838</span>
<span class="t" style="left:103.3px;top:392.6px;font-size:12.2px;font-weight:bold;color:#1c1c1c;transform:translate(-50%,-50%) scaleX(1.0)">Abruzzo</span>
<span class="t" style="left:191.7px;top:392.6px;font-size:12.2px;font-weight:normal;color:#34340a;transform:translate(-50%,-50%) scaleX(1.0)">49</span>
<span class="t" style="left:270.0px;top:392.6px;font-size:12.2px;font-weight:normal;color:#34340a;transform:translate(-50%,-50%) scaleX(1.0)">3</span>
<span class="t" style="left:349.5px;top:392.6px;font-size:12.2px;font-weight:normal;color:#34340a;transform:translate(-50%,-50%) scaleX(1.0)">352</span>
<span class="t" style="left:433.2px;top:392.6px;font-size:12.2px;font-weight:bold;color:#1c1c04;transform:translate(-50%,-50%) scaleX(1.0)">404</span>
<span class="t" style="left:511.6px;top:392.6px;font-size:12.2px;font-weight:bold;color:#063806;transform:translate(-50%,-50%) scaleX(1.0)">2.418</span>
<span class="t" style="left:579.1px;top:392.6px;font-size:12.2px;font-weight:bold;color:#520000;transform:translate(-50%,-50%) scaleX(1.0)">459</span>
<span class="t" style="left:657.1px;top:392.6px;font-size:12.2px;font-weight:bold;color:#241804;transform:translate(-50%,-50%) scaleX(1.0)">3.281</span>
<span class="t" style="left:750.5px;top:392.6px;font-size:12.2px;font-weight:normal;color:#402c06;font-style:italic;-webkit-text-stroke:0.2px #402c06;transform:translate(-50%,-50%) scaleX(1.0)">+ 1</span>
<span class="t" style="left:841.3px;top:392.6px;font-size:12.2px;font-weight:bold;color:#1c1c1c;transform:translate(-50%,-50%) scaleX(1.0)">97.625</span>
<span class="t" style="left:920.5px;top:392.6px;font-size:12.2px;font-weight:bold;color:#1c1c1c;transform:translate(-50%,-50%) scaleX(1.0)">65.606</span>
<span class="t" style="left:997.5px;top:392.6px;font-size:12.2px;font-weight:bold;color:#1c1c1c;transform:translate(-50%,-50%) scaleX(1.0)">1.044</span>
<span class="t" style="left:103.3px;top:411.1px;font-size:12.2px;font-weight:bold;color:#1c1c1c;transform:translate(-50%,-50%) scaleX(1.0)">Bolzano</span>
<span class="t" style="left:191.7px;top:411.1px;font-size:12.2px;font-weight:normal;color:#34340a;transform:translate(-50%,-50%) scaleX(1.0)">3</span>
<span class="t" style="left:270.0px;top:411.1px;font-size:12.2px;font-weight:normal;color:#34340a;transform:translate(-50%,-50%) scaleX(1.0)">1</span>
<span class="t" style="left:349.5px;top:411.1px;font-size:12.2px;font-weight:normal;color:#34340a;transform:translate(-50%,-50%) scaleX(1.0)">72</span>
<span class="t" style="left:433.2px;top:411.1px;font-size:12.2px;font-weight:bold;color:#1c1c04;transform:translate(-50%,-50%) scaleX(1.0)">76</span>
<span class="t" style="left:511.6px;top:411.1px;font-size:12.2px;font-weight:bold;color:#063806;transform:translate(-50%,-50%) scaleX(1.0)">2.250</span>
<span class="t" style="left:579.1px;top:411.1px;font-size:12.2px;font-weight:bold;color:#520000;transform:translate(-50%,-50%) scaleX(1.0)">292</span>
<span class="t" style="left:657.1px;top:411.1px;font-size:12.2px;font-weight:bold;color:#241804;transform:translate(-50%,-50%) scaleX(1.0)">2618*</span>
<span class="t" style="left:750.5px;top:411.1px;font-size:12.2px;font-weight:normal;color:#402c06;font-style:italic;-webkit-text-stroke:0.2px #402c06;transform:translate(-50%,-50%) scaleX(1.0)">0</span>
<span class="t" style="left:841.3px;top:411.1px;font-size:12.2px;font-weight:bold;color:#1c1c1c;transform:translate(-50%,-50%) scaleX(1.0)">79.333</span>
<span class="t" style="left:920.5px;top:411.1px;font-size:12.2px;font-weight:bold;color:#1c1c1c;transform:translate(-50%,-50%) scaleX(1.0)">38.276</span>
<span class="t" style="left:997.5px;top:411.1px;font-size:12.2px;font-weight:bold;color:#1c1c1c;transform:translate(-50%,-50%) scaleX(1.0)">753</span>
<span class="t" style="left:103.3px;top:429.8px;font-size:12.2px;font-weight:bold;color:#1c1c1c;transform:translate(-50%,-50%) scaleX(1.0)">Umbria</span>
<span class="t" style="left:191.7px;top:429.8px;font-size:12.2px;font-weight:normal;color:#34340a;transform:translate(-50%,-50%) scaleX(1.0)">5</span>
<span class="t" style="left:270.0px;top:429.8px;font-size:12.2px;font-weight:normal;color:#34340a;transform:translate(-50%,-50%) scaleX(1.0)">2</span>
<span class="t" style="left:349.5px;top:429.8px;font-size:12.2px;font-weight:normal;color:#34340a;transform:translate(-50%,-50%) scaleX(1.0)">10</span>
<span class="t" style="left:433.2px;top:429.8px;font-size:12.2px;font-weight:bold;color:#1c1c04;transform:translate(-50%,-50%) scaleX(1.0)">17</span>
<span class="t" style="left:511.6px;top:429.8px;font-size:12.2px;font-weight:bold;color:#063806;transform:translate(-50%,-50%) scaleX(1.0)">1.343</span>
<span class="t" style="left:579.1px;top:429.8px;font-size:12.2px;font-weight:bold;color:#520000;transform:translate(-50%,-50%) scaleX(1.0)">78</span>
<span class="t" style="left:657.1px;top:429.8px;font-size:12.2px;font-weight:bold;color:#241804;transform:translate(-50%,-50%) scaleX(1.0)">1.438</span>
<span class="t" style="left:750.5px;top:429.8px;font-size:12.2px;font-weight:normal;color:#402c06;font-style:italic;-webkit-text-stroke:0.2px #402c06;transform:translate(-50%,-50%) scaleX(1.0)">0</span>
<span class="t" style="left:841.3px;top:429.8px;font-size:12.2px;font-weight:bold;color:#1c1c1c;transform:translate(-50%,-50%) scaleX(1.0)">87.789</span>
<span class="t" style="left:920.5px;top:429.8px;font-size:12.2px;font-weight:bold;color:#1c1c1c;transform:translate(-50%,-50%) scaleX(1.0)">60.857</span>
<span class="t" style="left:997.5px;top:429.8px;font-size:12.2px;font-weight:bold;color:#1c1c1c;transform:translate(-50%,-50%) scaleX(1.0)">1.096</span>
<span class="t" style="left:103.3px;top:448.6px;font-size:12.2px;font-weight:bold;color:#1c1c1c;transform:translate(-50%,-50%) scaleX(1.0)">Sardegna</span>
<span class="t" style="left:191.7px;top:448.6px;font-size:12.2px;font-weight:normal;color:#34340a;transform:translate(-50%,-50%) scaleX(1.0)">9</span>
<span class="t" style="left:270.0px;top:448.6px;font-size:12.2px;font-weight:normal;color:#34340a;transform:translate(-50%,-50%) scaleX(1.0)">0</span>
<span class="t" style="left:349.5px;top:448.6px;font-size:12.2px;font-weight:normal;color:#34340a;transform:translate(-50%,-50%) scaleX(1.0)">19</span>
<span class="t" style="left:433.2px;top:448.6px;font-size:12.2px;font-weight:bold;color:#1c1c04;transform:translate(-50%,-50%) scaleX(1.0)">28</span>
<span class="t" style="left:511.6px;top:448.6px;font-size:12.2px;font-weight:bold;color:#063806;transform:translate(-50%,-50%) scaleX(1.0)">1.209</span>
<span class="t" style="left:579.1px;top:448.6px;font-size:12.2px;font-weight:bold;color:#520000;transform:translate(-50%,-50%) scaleX(1.0)">132</span>
<span class="t" style="left:657.1px;top:448.6px;font-size:12.2px;font-weight:bold;color:#241804;transform:translate(-50%,-50%) scaleX(1.0)">1.369</span>
<span class="t" style="left:750.5px;top:448.6px;font-size:12.2px;font-weight:normal;color:#402c06;font-style:italic;-webkit-text-stroke:0.2px #402c06;transform:translate(-50%,-50%) scaleX(1.0)">+ 1</span>
<span class="t" style="left:841.3px;top:448.6px;font-size:12.2px;font-weight:bold;color:#1c1c1c;transform:translate(-50%,-50%) scaleX(1.0)">75.217</span>
<span class="t" style="left:920.5px;top:448.6px;font-size:12.2px;font-weight:bold;color:#1c1c1c;transform:translate(-50%,-50%) scaleX(1.0)">63.646</span>
<span class="t" style="left:997.5px;top:448.6px;font-size:12.2px;font-weight:bold;color:#1c1c1c;transform:translate(-50%,-50%) scaleX(1.0)">1.371</span>
<span class="t" style="left:103.3px;top:467.1px;font-size:12.2px;font-weight:bold;color:#1c1c1c;transform:translate(-50%,-50%) scaleX(1.0)">Valle d&#39;Aosta</span>
<span class="t" style="left:191.7px;top:467.1px;font-size:12.2px;font-weight:normal;color:#34340a;transform:translate(-50%,-50%) scaleX(1.0)">4</span>
<span class="t" style="left:270.0px;top:467.1px;font-size:12.2px;font-weight:normal;color:#34340a;transform:translate(-50%,-50%) scaleX(1.0)">0</span>
<span class="t" style="left:349.5px;top:467.1px;font-size:12.2px;font-weight:normal;color:#34340a;transform:translate(-50%,-50%) scaleX(1.0)">2</span>
<span class="t" style="left:433.2px;top:467.1px;font-size:12.2px;font-weight:bold;color:#1c1c04;transform:translate(-50%,-50%) scaleX(1.0)">6</span>
<span class="t" style="left:511.6px;top:467.1px;font-size:12.2px;font-weight:bold;color:#063806;transform:translate(-50%,-50%) scaleX(1.0)">1.041</span>
<span class="t" style="left:579.1px;top:467.1px;font-size:12.2px;font-weight:bold;color:#520000;transform:translate(-50%,-50%) scaleX(1.0)">146</span>
<span class="t" style="left:657.1px;top:467.1px;font-size:12.2px;font-weight:bold;color:#241804;transform:translate(-50%,-50%) scaleX(1.0)">1.193</span>
<span class="t" style="left:750.5px;top:467.1px;font-size:12.2px;font-weight:normal;color:#402c06;font-style:italic;-webkit-text-stroke:0.2px #402c06;transform:translate(-50%,-50%) scaleX(1.0)">+ 2</span>
<span class="t" style="left:841.3px;top:467.1px;font-size:12.2px;font-weight:bold;color:#1c1c1c;transform:translate(-50%,-50%) scaleX(1.0)">17.297</span>
<span class="t" style="left:920.5px;top:467.1px;font-size:12.2px;font-weight:bold;color:#1c1c1c;transform:translate(-50%,-50%) scaleX(1.0)">13.234</span>
<span class="t" style="left:997.5px;top:467.1px;font-size:12.2px;font-weight:bold;color:#1c1c1c;transform:translate(-50%,-50%) scaleX(1.0)">114</span>
<span class="t" style="left:103.3px;top:485.5px;font-size:12.2px;font-weight:bold;color:#1c1c1c;transform:translate(-50%,-50%) scaleX(1.0)">Calabria</span>
<span class="t" style="left:191.7px;top:485.5px;font-size:12.2px;font-weight:normal;color:#34340a;transform:translate(-50%,-50%) scaleX(1.0)">18</span>
<span class="t" style="left:270.0px;top:485.5px;font-size:12.2px;font-weight:normal;color:#34340a;transform:translate(-50%,-50%) scaleX(1.0)">0</span>
<span class="t" style="left:349.5px;top:485.5px;font-size:12.2px;font-weight:normal;color:#34340a;transform:translate(-50%,-50%) scaleX(1.0)">12</span>
<span class="t" style="left:433.2px;top:485.5px;font-size:12.2px;font-weight:bold;color:#1c1c04;transform:translate(-50%,-50%) scaleX(1.0)">30</span>
<span class="t" style="left:511.6px;top:485.5px;font-size:12.2px;font-weight:bold;color:#063806;transform:translate(-50%,-50%) scaleX(1.0)">1.040</span>
<span class="t" style="left:579.1px;top:485.5px;font-size:12.2px;font-weight:bold;color:#520000;transform:translate(-50%,-50%) scaleX(1.0)">97</span>
<span class="t" style="left:657.1px;top:485.5px;font-size:12.2px;font-weight:bold;color:#241804;transform:translate(-50%,-50%) scaleX(1.0)">1167**</span>
<span class="t" style="left:750.5px;top:485.5px;font-size:12.2px;font-weight:normal;color:#402c06;font-style:italic;-webkit-text-stroke:0.2px #402c06;transform:translate(-50%,-50%) scaleX(1.0)">+ 3</span>
<span class="t" style="left:841.3px;top:485.5px;font-size:12.2px;font-weight:bold;color:#1c1c1c;transform:translate(-50%,-50%) scaleX(1.0)">87.292</span>
<span class="t" style="left:920.5px;top:485.5px;font-size:12.2px;font-weight:bold;color:#1c1c1c;transform:translate(-50%,-50%) scaleX(1.0)">85.241</span>
<span class="t" style="left:997.5px;top:485.5px;font-size:12.2px;font-weight:bold;color:#1c1c1c;transform:translate(-50%,-50%) scaleX(1.0)">1.019</span>
<span class="t" style="left:103.3px;top:504.1px;font-size:12.2px;font-weight:bold;color:#1c1c1c;transform:translate(-50%,-50%) scaleX(1.0)">Molise</span>
<span class="t" style="left:191.7px;top:504.1px;font-size:12.2px;font-weight:normal;color:#34340a;transform:translate(-50%,-50%) scaleX(1.0)">2</span>
<span class="t" style="left:270.0px;top:504.1px;font-size:12.2px;font-weight:normal;color:#34340a;transform:translate(-50%,-50%) scaleX(1.0)">0</span>
<span class="t" style="left:349.5px;top:504.1px;font-size:12.2px;font-weight:normal;color:#34340a;transform:translate(-50%,-50%) scaleX(1.0)">51</span>
<span class="t" style="left:433.2px;top:504.1px;font-size:12.2px;font-weight:bold;color:#1c1c04;transform:translate(-50%,-50%) scaleX(1.0)">53</span>
<span class="t" style="left:511.6px;top:504.1px;font-size:12.2px;font-weight:bold;color:#063806;transform:translate(-50%,-50%) scaleX(1.0)">365</span>
<span class="t" style="left:579.1px;top:504.1px;font-size:12.2px;font-weight:bold;color:#520000;transform:translate(-50%,-50%) scaleX(1.0)">23</span>
<span class="t" style="left:657.1px;top:504.1px;font-size:12.2px;font-weight:bold;color:#241804;transform:translate(-50%,-50%) scaleX(1.0)">441</span>
<span class="t" style="left:750.5px;top:504.1px;font-size:12.2px;font-weight:normal;color:#402c06;font-style:italic;-webkit-text-stroke:0.2px #402c06;transform:translate(-50%,-50%) scaleX(1.0)">0</span>
<span class="t" style="left:841.3px;top:504.1px;font-size:12.2px;font-weight:bold;color:#1c1c1c;transform:translate(-50%,-50%) scaleX(1.0)">20.441</span>
<span class="t" style="left:920.5px;top:504.1px;font-size:12.2px;font-weight:bold;color:#1c1c1c;transform:translate(-50%,-50%) scaleX(1.0)">19.445</span>
<span class="t" style="left:997.5px;top:504.1px;font-size:12.2px;font-weight:bold;color:#1c1c1c;transform:translate(-50%,-50%) scaleX(1.0)">238</span>
<span class="t" style="left:103.3px;top:522.8px;font-size:12.2px;font-weight:bold;color:#1c1c1c;transform:translate(-50%,-50%) scaleX(1.0)">Basilicata</span>
<span class="t" style="left:191.7px;top:522.8px;font-size:12.2px;font-weight:normal;color:#34340a;transform:translate(-50%,-50%) scaleX(1.0)">0</span>
<span class="t" style="left:270.0px;top:522.8px;font-size:12.2px;font-weight:normal;color:#34340a;transform:translate(-50%,-50%) scaleX(1.0)">1</span>
<span class="t" style="left:349.5px;top:522.8px;font-size:12.2px;font-weight:normal;color:#34340a;transform:translate(-50%,-50%) scaleX(1.0)">7</span>
<span class="t" style="left:433.2px;top:522.8px;font-size:12.2px;font-weight:bold;color:#1c1c04;transform:translate(-50%,-50%) scaleX(1.0)">8</span>
<span class="t" style="left:511.6px;top:522.8px;font-size:12.2px;font-weight:bold;color:#063806;transform:translate(-50%,-50%) scaleX(1.0)">366</span>
<span class="t" style="left:579.1px;top:522.8px;font-size:12.2px;font-weight:bold;color:#520000;transform:translate(-50%,-50%) scaleX(1.0)">27</span>
<span class="t" style="left:657.1px;top:522.8px;font-size:12.2px;font-weight:bold;color:#241804;transform:translate(-50%,-50%) scaleX(1.0)">401</span>
<span class="t" style="left:750.5px;top:522.8px;font-size:12.2px;font-weight:normal;color:#402c06;font-style:italic;-webkit-text-stroke:0.2px #402c06;transform:translate(-50%,-50%) scaleX(1.0)">0</span>
<span class="t" style="left:841.3px;top:522.8px;font-size:12.2px;font-weight:bold;color:#1c1c1c;transform:translate(-50%,-50%) scaleX(1.0)">36.975</span>
<span class="t" style="left:920.5px;top:522.8px;font-size:12.2px;font-weight:bold;color:#1c1c1c;transform:translate(-50%,-50%) scaleX(1.0)">36.185</span>
<span class="t" style="left:997.5px;top:522.8px;font-size:12.2px;font-weight:bold;color:#1c1c1c;transform:translate(-50%,-50%) scaleX(1.0)">270</span>
<span class="t" style="left:103.3px;top:541.9px;font-size:12.2px;font-weight:bold;color:#1c1c1c;transform:translate(-50%,-50%) scaleX(0.92)">TOTALE</span>
<span class="t" style="left:191.7px;top:541.9px;font-size:12.2px;font-weight:normal;color:#34340a;transform:translate(-50%,-50%) scaleX(1.0)">2.474</span>
<span class="t" style="left:270.0px;top:541.9px;font-size:12.2px;font-weight:normal;color:#34340a;transform:translate(-50%,-50%) scaleX(1.0)">152</span>
<span class="t" style="left:349.5px;top:541.9px;font-size:12.2px;font-weight:normal;color:#34340a;transform:translate(-50%,-50%) scaleX(1.0)">18.586</span>
<span class="t" style="left:433.2px;top:541.9px;font-size:12.2px;font-weight:bold;color:#1c1c04;transform:translate(-50%,-50%) scaleX(1.0)">21.212</span>
<span class="t" style="left:511.6px;top:541.9px;font-size:12.2px;font-weight:bold;color:#063806;transform:translate(-50%,-50%) scaleX(1.0)">182.453</span>
<span class="t" style="left:579.1px;top:541.9px;font-size:12.2px;font-weight:bold;color:#520000;transform:translate(-50%,-50%) scaleX(1.0)">34.610</span>
<span class="t" style="left:657.1px;top:541.9px;font-size:12.2px;font-weight:bold;color:#241804;transform:translate(-50%,-50%) scaleX(1.0)">238.275</span>
<span class="t" style="left:750.5px;top:541.9px;font-size:12.2px;font-weight:normal;color:#402c06;font-style:italic;-webkit-text-stroke:0.2px #402c06;transform:translate(-50%,-50%) scaleX(1.0)">+ 262</span>
<span class="t" style="left:841.3px;top:541.9px;font-size:12.2px;font-weight:bold;color:#1c1c1c;transform:translate(-50%,-50%) scaleX(1.0)">4.943.825</span>
<span class="t" style="left:920.5px;top:541.9px;font-size:12.2px;font-weight:bold;color:#1c1c1c;transform:translate(-50%,-50%) scaleX(1.0)">3.017.169</span>
<span class="t" style="left:997.5px;top:541.9px;font-size:12.2px;font-weight:bold;color:#1c1c1c;transform:translate(-50%,-50%) scaleX(1.0)">54.722</span>
<div style="left:154.3px;top:578.9px;width:234.8px;height:18.5px;background:#ffff00;"></div>
<div style="left:154.3px;top:597.4px;width:234.8px;height:19.6px;background:#00f000;"></div>
<div style="left:154.3px;top:617.0px;width:234.8px;height:19.6px;background:#fd0606;"></div>
<div style="left:154.3px;top:636.6px;width:234.8px;height:19.0px;background:#ffc000;"></div>
<div style="left:154.3px;top:596.6px;width:234.8px;height:1.5px;background:rgba(0,0,0,0.6);"></div>
<div style="left:154.3px;top:616.2px;width:234.8px;height:1.5px;background:rgba(0,0,0,0.6);"></div>
<div style="left:154.3px;top:635.9px;width:234.8px;height:1.5px;background:rgba(0,0,0,0.6);"></div>
<div style="left:154.3px;top:577.9px;width:234.8px;height:2.0px;background:rgba(0,0,0,0.8);"></div>
<div style="left:154.3px;top:654.6px;width:234.8px;height:2.0px;background:rgba(0,0,0,0.8);"></div>
<div style="left:153.3px;top:578.9px;width:2.0px;height:76.7px;background:rgba(0,0,0,0.8);"></div>
<div style="left:309.6px;top:578.9px;width:2.0px;height:76.7px;background:rgba(0,0,0,0.8);"></div>
<div style="left:388.1px;top:578.9px;width:2.0px;height:76.7px;background:rgba(0,0,0,0.8);"></div>
<span class="t" style="left:232.5px;top:590.4px;font-size:11.9px;font-weight:bold;color:#1c1c04;transform:translate(-50%,-50%) scaleX(1.0)">ATTUALMENTE POSITIVI</span>
<span class="t" style="left:349.9px;top:590.4px;font-size:11.9px;font-weight:bold;color:#1c1c04;transform:translate(-50%,-50%) scaleX(1.0)">21.212</span>
<span class="t" style="left:232.5px;top:609.5px;font-size:11.9px;font-weight:bold;color:#063806;transform:translate(-50%,-50%) scaleX(1.0)">TOTALE GUARITI</span>
<span class="t" style="left:349.9px;top:609.5px;font-size:11.9px;font-weight:bold;color:#063806;transform:translate(-50%,-50%) scaleX(1.0)">182.453</span>
<span class="t" style="left:232.5px;top:629.1px;font-size:11.9px;font-weight:bold;color:#520000;transform:translate(-50%,-50%) scaleX(1.0)">TOTALE DECEDUTI</span>
<span class="t" style="left:349.9px;top:629.1px;font-size:11.9px;font-weight:bold;color:#520000;transform:translate(-50%,-50%) scaleX(1.0)">34.610</span>
<span class="t" style="left:232.5px;top:648.4px;font-size:11.9px;font-weight:bold;color:#241804;transform:translate(-50%,-50%) scaleX(1.0)">CASI TOTALI</span>
<span class="t" style="left:349.9px;top:648.4px;font-size:11.9px;font-weight:bold;color:#241804;transform:translate(-50%,-50%) scaleX(1.0)">238.275</span>
<span class="n" style="left:88px;top:676px;font-weight:bold;text-decoration:underline;color:#222">NOTE</span>
<span class="n" style="left:76px;top:704px;font-size:12.6px;transform:scaleX(0.93);transform-origin:0 0;color:#3a3a3a">BOLZANO</span>
<span class="n" style="left:76px;top:740px;font-size:12.6px;transform:scaleX(0.89);transform-origin:0 0;color:#3a3a3a">CALABRIA</span>
<span class="n" style="font-size:12.7px;left:157px;top:696px;color:#3a3a3a">*Ricalcolo casi positivi (Nessun caso positivo odierno - Alla voce "Casi totali" la P.A. di Bolzano ha aggiunto &nbsp;3 casi positivi già guariti ma sino ad oggi &nbsp;non</span>
<span class="n" style="font-size:12.7px;left:157px;top:714px;color:#3a3a3a">conteggiati nei casi positivi)</span>
<span class="n" style="font-size:12.85px;left:157px;top:751.5px;color:#3a3a3a">**Ricalcolo casi positivi (3 casi positivi odierni -Alla voce "Casi totali" la Regione Calabria ha sottratto un caso positivo del 18/06)</span>
</body></html>
